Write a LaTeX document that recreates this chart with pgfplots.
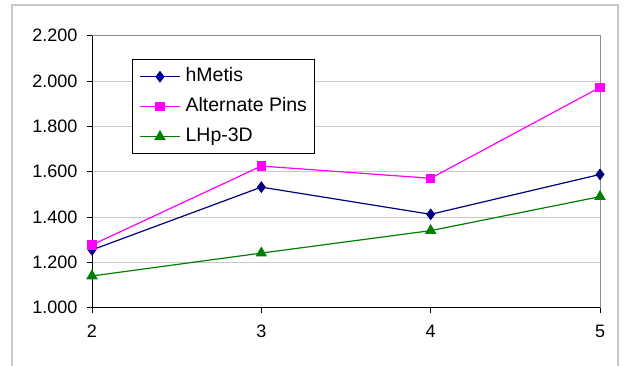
\documentclass[border=0pt]{standalone}
\usepackage{pgfplots}
\pgfplotsset{compat=1.18}
\usepackage{fontspec}
\setmainfont{Liberation Sans}
\definecolor{hmet}{RGB}{0,0,128}
\definecolor{altp}{RGB}{255,0,255}
\definecolor{lhp}{RGB}{0,128,0}
\definecolor{gridc}{RGB}{200,200,200}
\definecolor{borderc}{RGB}{200,200,200}
\begin{document}
\begin{tikzpicture}
\useasboundingbox (-92pt,-57.3pt) rectangle (534pt,307.7pt);
\draw[borderc, line width=1.6pt] (-80pt,-70pt) -- (-80pt,302.7pt) -- (526pt,302.7pt) -- (526pt,-70pt);
\begin{axis}[
  at={(0pt,0pt)}, anchor=south west,
  scale only axis, width=508pt, height=272pt,
  xmin=2, xmax=5, ymin=1, ymax=2.2,
  xtick={2,3,4,5},
  ytick={1,1.2,1.4,1.6,1.8,2.0,2.2},
  font=\fontsize{18}{21}\selectfont,
  /pgf/number format/assume math mode=true,
  yticklabel={\pgfmathprintnumber[fixed,fixed zerofill,precision=3,use period]{\tick}},
  xticklabel={\pgfmathprintnumber{\tick}},
  yticklabel style={xshift=-6pt},
  xticklabel style={yshift=-9pt},
  tick align=outside,
  major tick length=5pt,
  tick style={black, line width=0.8pt},
  xtick pos=bottom, ytick pos=left,
  ymajorgrids, grid style={gridc, line width=0.8pt},
  axis line style={draw=none},
  clip=false,
  legend style={
    at={(rel axis cs:0.0787,0.913)}, anchor=north west,
    draw=black, line width=0.8pt, fill=white,
    inner xsep=7pt, inner ysep=8.5pt,
    row sep=13pt, column sep=5pt,
    nodes={inner sep=0pt, anchor=west, text height=13pt, text depth=4pt},
    font=\fontsize{19.5}{22}\selectfont,
  },
  legend cell align=left,
  legend image code/.code={\draw[mark repeat=2,mark phase=2,#1] plot coordinates {(0pt,0pt) (20pt,0pt) (40pt,0pt)};},
]
\draw[gray!90, line width=0.8pt] (rel axis cs:0,1) -- (rel axis cs:1,1) -- (rel axis cs:1,0);
\draw[black, line width=0.9pt] (rel axis cs:0,1) -- (rel axis cs:0,0) -- (rel axis cs:1,0);
\addplot[hmet, line width=1.2pt, mark=diamond*, mark size=5pt, mark options={solid,fill=hmet}]
  coordinates {(2,1.255) (3,1.532) (4,1.412) (5,1.588)};
\addlegendentry{hMetis}
\addplot[altp, line width=1.2pt, mark=square*, mark size=4pt, mark options={solid,fill=altp}]
  coordinates {(2,1.277) (3,1.625) (4,1.571) (5,1.972)};
\addlegendentry{Alternate Pins}
\addplot[lhp, line width=1.2pt, mark=triangle*, mark size=5.5pt, mark options={solid,fill=lhp}]
  coordinates {(2,1.140) (3,1.241) (4,1.340) (5,1.490)};
\addlegendentry{LHp-3D}
\end{axis}
\end{tikzpicture}
\end{document}
